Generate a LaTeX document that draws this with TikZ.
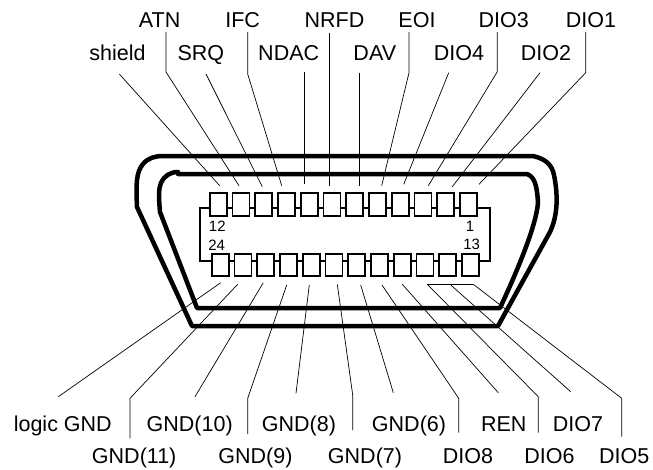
\documentclass[tikz,border=0pt]{standalone}
\usepackage{fontspec}
\setmainfont{Liberation Sans}
\tikzset{
  signal/.style={anchor=base,inner sep=0pt,font=\fontsize{21.5}{24}\selectfont},
  pinno/.style={anchor=base,inner sep=0pt,font=\fontsize{15}{18}\selectfont},
  pinbox/.style={draw,fill=white,line width=1.9pt,minimum width=17pt,minimum height=22.5pt,inner sep=0pt},
  leader/.style={line width=0.7pt},
  shell/.style={line width=4.5pt,line join=round,line cap=round}
}
\begin{document}
\begin{tikzpicture}[x=1pt,y=-1pt]
  \useasboundingbox (0,0) rectangle (653,469);
  % contact carrier
  \coordinate (tl) at (200,208);
  \coordinate (tr) at (490,208);
  \coordinate (br) at (490,261);
  \coordinate (bl) at (200,261);
  \draw[line width=1.5pt] (tl) -- (tr) -- (br) -- (bl) -- cycle;
  \foreach \i in {1,...,12}{
    \node[pinbox] (up\i) at ({468.5-(\i-1)*22.75},204.5) {};
    \node[pinbox] (low\i) at ({470.5-(\i-1)*22.75},265) {};
  }
  \node[pinno] (n12) at (217.3,231) {12};
  \node[pinno] (n24) at (216.7,250) {24};
  \node[pinno] (n1) at (470,231.5) {1};
  \node[pinno] (n13) at (471.7,249) {13};
  % shell
  \draw[shell] (163,156) -- (533,156)
    .. controls (546,159) and (552,165) .. (554,175)
    .. controls (558,195) and (558,215) .. (550,232)
    -- (498,326) -- (192,326) -- (137,207)
    .. controls (136,185) and (136,172) .. (143,164)
    .. controls (148,158) and (155,156) .. (163,156);
  \draw[shell] (178,174) -- (527,174)
    .. controls (535,177) and (537,186) .. (538,203)
    .. controls (536,225) and (520,265) .. (500,308)
    -- (197,308) -- (160,212)
    .. controls (159,200) and (158,190) .. (161,183)
    .. controls (164,176) and (170,172) .. (178,172);
  % names of the signals
  \foreach \n/\t/\x/\y in {
    atn/ATN/159.7/27.7, ifc/IFC/242.7/27.7, nrfd/NRFD/334.5/27.7, eoi/EOI/417/27.7,
    dioc/DIO3/503.7/27.7, dioa/DIO1/591/27.7,
    shield/shield/117.5/60, srq/SRQ/200.8/60, ndac/NDAC/288.7/60, dav/DAV/374.8/60,
    diod/DIO4/459/60, diob/DIO2/546/60,
    logic/logic GND/62.8/431.7, gndj/GND(10)/189.7/431.7, gndh/GND(8)/299/431.7,
    gndf/GND(6)/409/431.7, ren/REN/503.8/431.7, diog/DIO7/578/431.7,
    gndk/GND(11)/134.2/463, gndi/GND(9)/255.5/463, gndg/GND(7)/365/463,
    dioh/DIO8/468/463, diof/DIO6/549.5/463, dioe/DIO5/624.3/463}
    \node[signal] (\n) at (\x,\y) {\t};
  % straight leaders
  \foreach \n/\ax/\ay/\bx/\by in {
    shield/119.3/74/219.7/185.7, srq/206/74/262.3/186.7, ndac/304/72/304/184,
    nrfd/329.7/32.7/329.7/185.7, dav/359/72.7/359/185.7, diod/448.7/72.7/403.7/184.3,
    diob/540/72.7/452.3/186.7,
    logic/220.7/282.7/58.3/396.7, gndj/263.3/282.7/195/396.7, gndh/309.3/285/296/393.3,
    gndf/360.7/285/393.3/392.7, ren/402.3/284.3/498.3/392.7, diog/450/284.3/570.7/391.7}{
    \coordinate (\n-a) at (\ax,\ay);
    \coordinate (\n-b) at (\bx,\by);
    \draw[leader] (\n-a) -- (\n-b);
  }
  % leaders with a bend
  \foreach \n/\ax/\ay/\bx/\by/\cx/\cy in {
    atn/166/32/166/72/239/185.7, ifc/247.7/32/247.7/74/281.7/185.7,
    eoi/409/32/409/72.7/381.7/185.7, dioc/497.3/32/497.3/71.7/428.3/185.7,
    dioa/585.7/32/585.7/72.7/479/184.3,
    gndk/237.7/284.3/130/398.3/130/438.3, gndi/286.7/285/247.7/398.3/247.7/434,
    gndg/337.3/284.3/352.7/395/352.7/430, dioh/382/285/458.7/398.3/458.7/432.7,
    diof/427.3/284.3/538.3/396.7/538.3/432.7, dioe/473.3/284.3/621.7/398.3/621.7/436.7}{
    \coordinate (\n-a) at (\ax,\ay);
    \coordinate (\n-b) at (\bx,\by);
    \coordinate (\n-c) at (\cx,\cy);
    \draw[leader] (\n-a) -- (\n-b) -- (\n-c);
  }
  \draw[leader] (diof-a) -- (dioe-a);
\end{tikzpicture}
\end{document}
